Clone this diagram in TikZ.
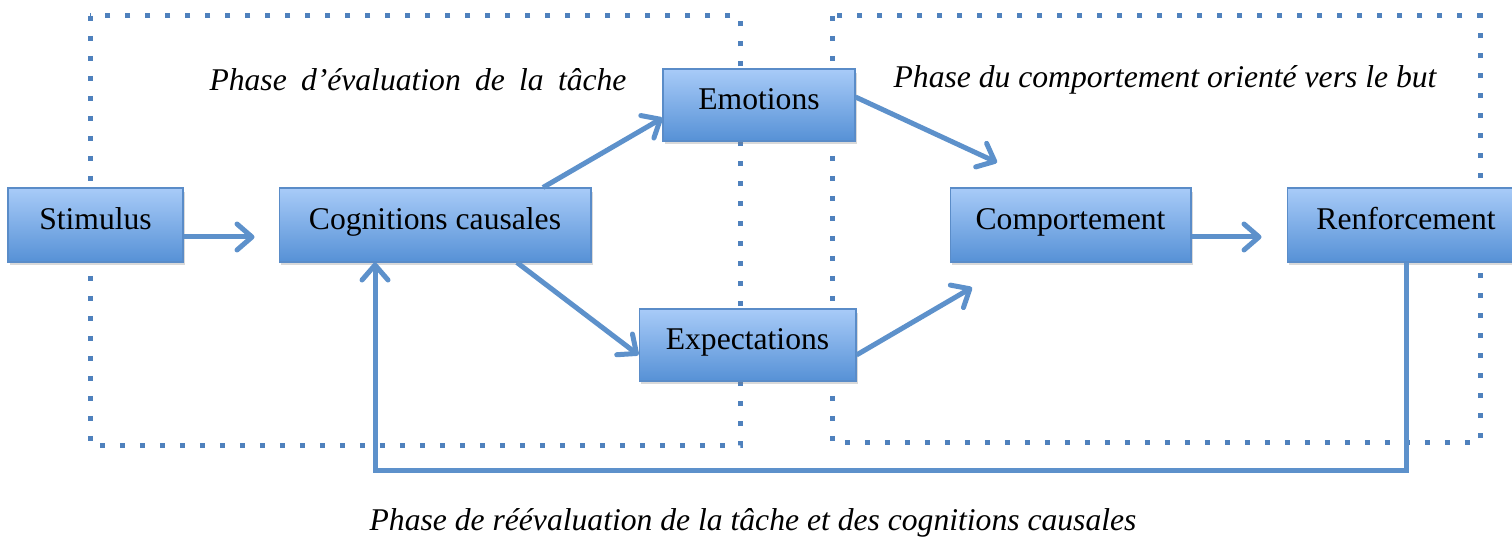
\documentclass[tikz,border=0pt]{standalone}
\usepackage{fontspec}
\setmainfont{Liberation Serif}
\usetikzlibrary{arrows.meta,shadows}
\definecolor{dotblue}{RGB}{79,129,189}
\definecolor{arrblue}{RGB}{93,145,203}
\definecolor{boxtop}{RGB}{168,203,248}
\definecolor{boxbot}{RGB}{86,145,214}
\definecolor{boxline}{RGB}{90,140,200}

\begin{document}
\begin{tikzpicture}[x=0.02cm, y=-0.02cm,
    box/.style={draw=boxline, line width=0.6pt, top color=boxtop, bottom color=boxbot,
      inner sep=0pt, minimum height=1.48cm, text height=0.45cm, text depth=0.25cm,
      drop shadow={shadow xshift=0.04cm, shadow yshift=-0.07cm, opacity=0.3},
      font=\fontsize{18}{21}\selectfont},
    arr/.style={draw=arrblue, line width=0.1cm,
      -{Straight Barb[length=0.3cm, width=0.52cm, line cap=round, line join=round]}},
    dotline/.style={draw=dotblue, line width=0.1cm, dash pattern=on 0.1cm off 0.3cm},
    phase/.style={font=\fontsize{18}{21}\selectfont\itshape}]
        \path[use as bounding box] (0,0) rectangle (1512,543);
        \clip (0,0) rectangle (1512,543);

        \draw[dotline] (90,16) rectangle (740,446);
        \draw[dotline] (832,16) rectangle (1480,443);

        \node [box, minimum width=3.5cm] (stim) at (95.5,225) {Stimulus};
        \node [box, minimum width=6.24cm] (cog) at (435,225) {Cognitions causales};
        \node [box, minimum width=3.84cm, minimum height=1.44cm] (emo) at (759,105) {Emotions};
        \node [box, minimum width=4.34cm, minimum height=1.44cm] (exp) at (747.5,345) {Expectations};
        \node [box, minimum width=4.82cm] (comp) at (1070.5,225) {Comportement};
        \node [box, minimum width=4.76cm] (renf) at (1406,225) {Renforcement};

        \node [phase] (ph1) at (418,80) {{\spaceskip=0.45em\relax Phase d’évaluation de la tâche}};
        \node [phase] (ph2) at (1165,80) {Phase du comportement orienté vers le but};
        \node [phase] (ph3) at (753,523) {Phase de réévaluation de la tâche et des cognitions causales};

        \draw[arr, shorten >=0.48cm] ([yshift=-0.24cm]stim.east) -- ([yshift=-0.24cm]cog.west);
        \draw[arr] ([xshift=2.16cm]cog.north) -- ([yshift=-0.26cm]emo.west);
        \draw[arr] ([xshift=1.64cm]cog.south) -- ([yshift=-0.2cm]exp.west);
        \draw[arr] ([yshift=0.16cm]emo.east) -- ([xshift=-1.47cm, yshift=0.5cm]comp.north);
        \draw[arr] ([yshift=-0.2cm]exp.east) -- ([xshift=-1.97cm, yshift=-0.5cm]comp.south);
        \draw[arr, shorten >=0.5cm] ([yshift=-0.24cm]comp.east) -- ([yshift=-0.24cm]renf.west);
        \draw[arr] (renf.south) -- ++(0,208) -| ([xshift=-1.2cm]cog.south);
      \end{tikzpicture}
\end{document}
